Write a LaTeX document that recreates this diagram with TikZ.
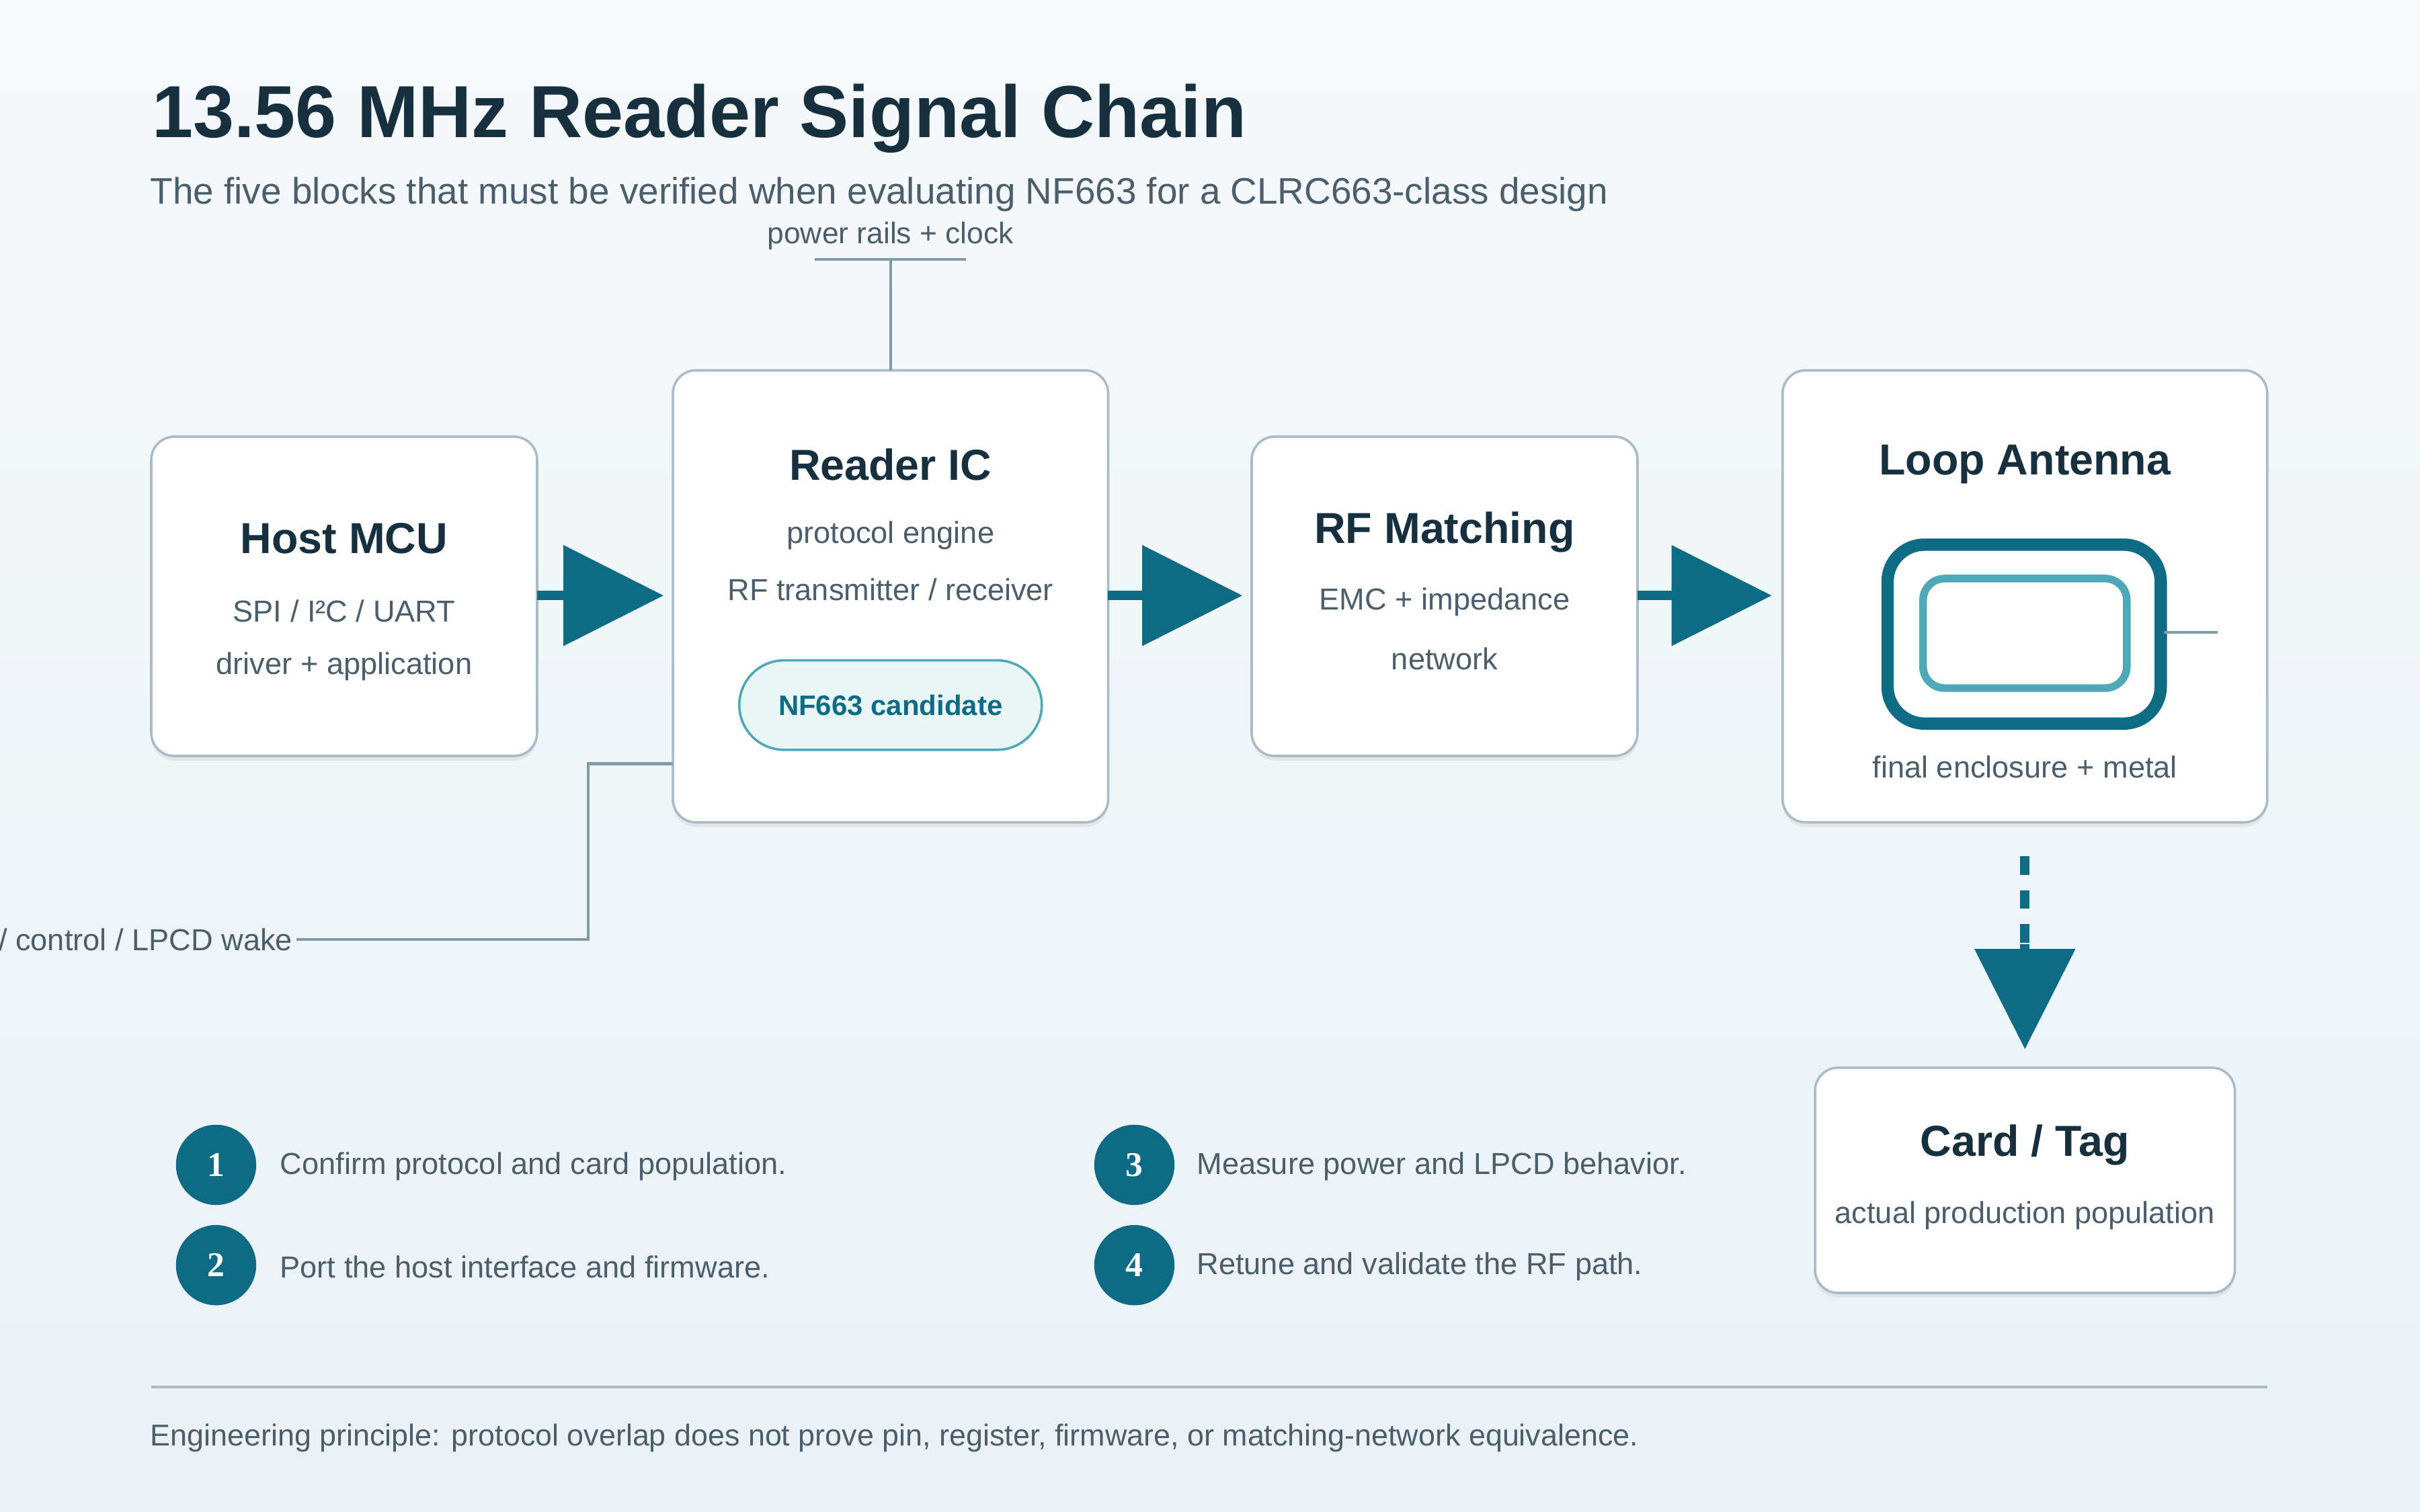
\documentclass[tikz,border=0pt]{standalone}
\usepackage{fontspec}
\setmainfont{Liberation Sans}
\usetikzlibrary{arrows.meta,shadows}
\definecolor{teal}{HTML}{0E6B85}
\definecolor{tealL}{HTML}{4FA8B8}
\definecolor{ink}{HTML}{16303F}
\definecolor{txt}{HTML}{4A5E6B}
\definecolor{wire}{HTML}{7E9BAA}
\definecolor{edge}{HTML}{A9BCC6}
\definecolor{bgA}{HTML}{F6F9FB}
\definecolor{bgB}{HTML}{EAF1F6}
\newcommand{\px}[1]{\fontsize{#1}{#1}\selectfont}
\tikzset{
  block/.style={draw=edge, line width=2.2pt, fill=white, rounded corners=0.75cm,
    drop shadow={shadow xshift=0pt, shadow yshift=-0.15cm, opacity=0.12}},
  head/.style={font=\bfseries\px{40pt}, text=ink},
  body/.style={font=\px{28pt}, text=txt},
  flow/.style={teal, line width=0.3cm, -{Triangle[length=3.25cm,width=3.2cm]}},
  wireline/.style={wire, line width=2.6pt},
  stepdot/.style={circle, fill=teal, minimum size=2.6cm, text=white,
    font=\fontspec{Liberation Serif}\bfseries\px{32pt}},
  steptext/.style={anchor=west, font=\px{28pt}, text=txt}
}
\begin{document}
\begin{tikzpicture}[x=0.05cm, y=-0.05cm]
  \shade[top color=bgA, bottom color=bgB] (0,0) rectangle (1568,980);
  \useasboundingbox (0,0) rectangle (1568,980);

  % heading
  \node[anchor=west, font=\bfseries\px{68pt}, text=ink] (title) at (96,77) {13.56 MHz Reader Signal Chain};
  \node[anchor=west, font=\px{34pt}, text=txt] (sub) at (95,126) {The five blocks that must be verified when evaluating NF663 for a CLRC663-class design};

  % blocks
  \draw[block] (98,283) rectangle (348,490);
  \draw[block] (436,240) rectangle (718,533);
  \draw[block] (811,283) rectangle (1061,490);
  \draw[block] (1155,240) rectangle (1469,533);
  \draw[block] (1176,692) rectangle (1448,838);
  \coordinate (mcuE) at (348,386);
  \coordinate (icW) at (436,386);
  \coordinate (icE) at (718,386);
  \coordinate (rfW) at (811,386);
  \coordinate (rfE) at (1061,386);
  \coordinate (antW) at (1155,386);
  \coordinate (antS) at (1312,555);
  \coordinate (cardN) at (1312,692);

  \node[head] (mcuT) at (223,349) {Host MCU};
  \node[body] (mcu1) at (223,396) {SPI / I²C / UART};
  \node[body] (mcu2) at (223,432) {driver + application};

  \node[head] (icT) at (577,301) {Reader IC};
  \node[body] (ic1) at (577,347) {protocol engine};
  \node[body] (ic2) at (577,382) {RF transmitter / receiver};
  \node[draw=tealL, line width=2.2pt, fill=tealL!12, rounded corners=1.45cm,
    minimum width=9.8cm, minimum height=2.9cm, text=teal, font=\bfseries\px{26pt}]
    (cand) at (577,457) {NF663 candidate};

  \node[head] (rfT) at (936,345) {RF Matching};
  \node[body] (rf1) at (936,390) {EMC + impedance};
  \node[body] (rf2) at (936,427) {network};

  \node[head] (antT) at (1312,301) {Loop Antenna};
  \draw[teal, line width=0.4cm, rounded corners=1.2cm] (1223,353) rectangle (1400,469);
  \draw[tealL, line width=0.25cm, rounded corners=0.7cm] (1246,375) rectangle (1378,446);
  \coordinate (tapA) at (1402,410);
  \coordinate (tapB) at (1437,410);
  \draw[wireline] (tapA) -- (tapB);
  \node[body] (ant1) at (1312,497) {final enclosure + metal};

  \node[head] (cardT) at (1312,742) {Card / Tag};
  \node[body] (card1) at (1312,788) {actual production population};

  % signal flow
  \draw[flow, shorten >=0.3cm] (mcuE) -- (icW);
  \draw[flow, shorten >=0.3cm] (icE) -- (rfW);
  \draw[flow, shorten >=0.35cm] (rfE) -- (antW);
  \draw[teal, line width=0.3cm, dash pattern=on 0.6cm off 0.5cm] (antS) -- (1312,618);
  \draw[flow, shorten >=0.6cm] (1312,612) -- (cardN);

  % supply and control
  \node[font=\px{27.5pt}, text=txt] (pwr) at (577,153) {power rails + clock};
  \coordinate (pwrL) at (528,168);
  \coordinate (pwrR) at (626,168);
  \coordinate (icN) at (577,240);
  \draw[wireline] (pwrL) -- (pwrR);
  \draw[wireline] (577,168) -- (icN);
  \node[anchor=east, font=\px{28pt}, text=txt] (ctl) at (192,609) {/ control / LPCD wake};
  \coordinate (icSW) at (436,495);
  \draw[wireline] (icSW) -| (381,609) -- (ctl.east);

  % steps
  \node[stepdot] (s1) at (140,755) {1};
  \node[stepdot] (s2) at (140,820) {2};
  \node[stepdot] (s3) at (735,755) {3};
  \node[stepdot] (s4) at (735,820) {4};
  \node[steptext] (t1) at (179,756) {Confirm protocol and card population.};
  \node[steptext] (t2) at (179,821) {Port the host interface and firmware.};
  \node[steptext] (t3) at (773,756) {Measure power and LPCD behavior.};
  \node[steptext] (t4) at (773,821) {Retune and validate the RF path.};

  % footer
  \draw[edge, line width=2pt] (98,899) -- (1469,899);
  \node[anchor=west, font=\px{27.8pt}, text=txt] (foot) at (95,932) {Engineering principle: protocol overlap does not prove pin, register, firmware, or matching-network equivalence.};
\end{tikzpicture}
\end{document}
